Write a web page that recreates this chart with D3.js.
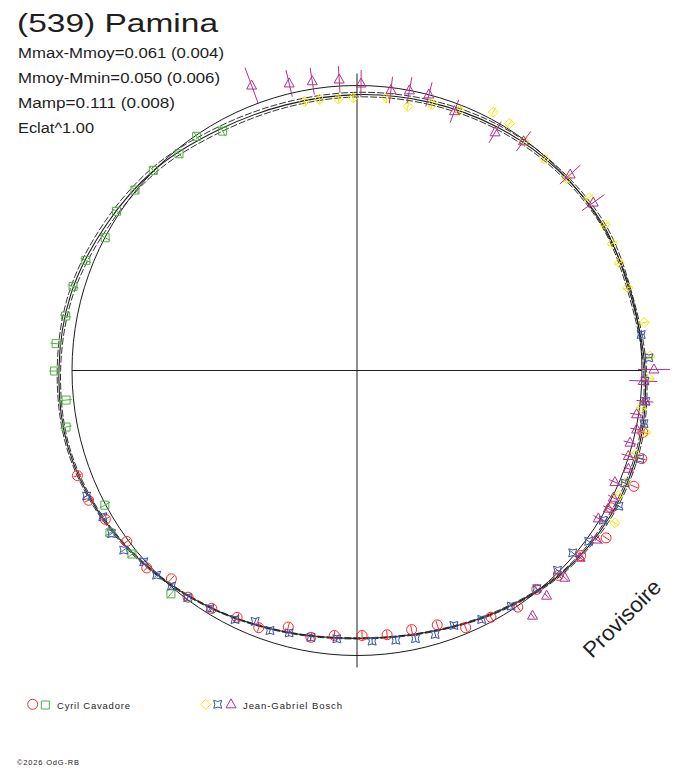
<!DOCTYPE html>
<html>
<head>
<meta charset="utf-8">
<script src="https://cdn.jsdelivr.net/npm/d3@7/dist/d3.min.js"></script>
<style>
body{margin:0;background:#fff;}
svg{display:block;}
text{font-family:"Liberation Sans",Arial,sans-serif;fill:#1e1e1e;}
</style>
</head>
<body>
<svg id="svg1"></svg>
<script>
var W = 688, H = 768;
var cx = 357, cy = 370.5, R0 = 285;

// title and stats
var title = "(539) Pamina";
var statLines = ["Mmax-Mmoy=0.061 (0.004)", "Mmoy-Mmin=0.050 (0.006)", "Mamp=0.111 (0.008)", "Eclat^1.00"];
var observers = ["Cyril Cavadore", "Jean-Gabriel Bosch"];

// fitted curve: phase (deg) and relative brightness, with its envelope
var fitPhase = [0,15,30,45,60,75,90,105,120,135,150,165,180,195,210,225,240,255,270,285,300,315,330,345];
var fitMid = [0.968,0.975,0.986,0.996,1.004,0.996,1.011,1.025,1.025,1.011,0.979,0.951,0.940,0.951,0.975,1.004,1.032,1.049,1.046,1.039,1.018,1.000,0.974,0.965];
var fitHi  = [0.976,0.983,0.994,1.003,1.011,1.002,1.016,1.031,1.031,1.015,0.982,0.953,0.942,0.953,0.977,1.007,1.036,1.054,1.052,1.047,1.028,1.010,0.984,0.974];
var fitLo  = [0.960,0.967,0.978,0.989,0.997,0.990,1.006,1.019,1.019,1.007,0.976,0.949,0.938,0.949,0.973,1.001,1.028,1.044,1.040,1.031,1.008,0.990,0.964,0.956];

// Cyril Cavadore, session 1 (circles)
var redPhase = [249.4,244.2,239.4,233.4,226.8,221.7,216.7,211.4,205.9,200.9,195.0,189.8,184.9,178.9,173.5,168.1,162.5,157.1,151.5,145.8,140.6,135.5,129.6,123.9,118.4,112.7,107.2,102.2];
var redFlux  = [1.048,1.046,1.026,1.006,1.012,0.979,0.992,0.978,0.963,0.966,0.932,0.950,0.933,0.930,0.933,0.929,0.936,0.980,0.985,1.004,0.994,1.008,1.019,1.053,1.013,1.053,1.046,1.026];

// Cyril Cavadore, session 2 (squares)
var greenPhase = [330.7,325.6,320.6,314.5,309.1,303.5,297.8,292.1,286.5,280.6,275.1,269.9,264.2,259.0,241.9,236.7,230.8,219.8];
var greenFlux  = [0.963,0.996,0.984,1.002,1.004,1.012,0.999,1.027,1.039,1.040,1.060,1.061,1.026,1.040,1.003,1.037,1.019,1.020];

// Jean-Gabriel Bosch, session 1 (diamonds)
var yelPhase = [349.0,352.1,356.1,359.2,6.2,10.9,15.8,21.5,27.8,31.7,36.1,41.5,47.6,53.3,59.5,63.6,67.7,73.0,80.5,87.2,91.6,97.5,102.1,106.8,112.7,115.6,120.6];
var yelFlux  = [0.962,0.960,0.955,0.957,0.962,0.944,0.970,0.981,1.025,1.018,0.996,0.992,0.997,1.015,1.010,1.000,0.995,0.993,1.022,1.029,1.025,1.006,1.036,1.020,1.020,1.016,1.051];

// Jean-Gabriel Bosch, session 2 (stars)
var bluePhase = [82.8,87.5,92.1,96.1,100.5,107.3,112.8,117.4,121.3,126.4,130.2,134.9,140.5,146.8,153.4,159.2,163.5,167.7,171.8,176.8,184.3,189.8,194.5,198.5,202.1,206.1,211.7,216.7,220.7,224.4,228.1,232.4,236.4,240.1,245.1];
var blueFlux  = [1.005,1.025,1.011,1.019,1.024,1.040,1.019,1.035,1.011,1.010,0.991,0.993,0.992,0.988,0.977,0.957,0.966,0.963,0.956,0.951,0.944,0.950,0.951,0.962,0.950,0.973,0.982,0.994,0.998,1.005,1.005,1.033,1.034,1.029,1.046];

// Jean-Gabriel Bosch, session 3 (triangles)
var magPhase = [339.7,346.7,351.2,356.5,0.8,6.9,10.6,14.6,20.6,30.1,36.0,47.4,54.6,89.8,92.1,96.1,98.9,101.9,104.8,107.5,109.9,113.4,116.4,118.8,121.5,125.2,130.0,134.9,139.9,144.4];
var magFlux  = [1.066,1.035,1.027,1.023,1.007,0.991,1.000,1.001,0.972,0.966,0.994,1.016,1.017,1.042,1.005,1.016,0.993,1.003,0.991,0.998,1.013,0.986,1.004,1.006,0.993,1.029,1.022,1.030,1.033,1.058];
var magErr   = [0.067,0.048,0.047,0.047,0.047,0.047,0.047,0.044,0.043,0.043,0.043,0.049,0.048,0.056,0.049,0.030,0.023,0.023,0.023,0.025,0.018,0.023,0.020,0.020,0.020,0.026,0.020,0.015,0.012,0.012];

// typical error of the other sessions
var seriesErr = {red:0.015, green:0.020, yellow:0.018, blue:0.012};

var colors = {red:"#ff2424", green:"#52b043", yellow:"#f2ea00", blue:"#3853a4", mag:"#b3308a", line:"#1c1c1c"};

var angle = d3.scaleLinear().domain([0,360]).range([0,2*Math.PI]);
var radius = d3.scaleLinear().domain([0,1]).range([0,R0]);

function pos(ph, f){
  var p = d3.pointRadial(angle(ph), radius(f));
  return [cx+p[0], cy+p[1]];
}

function zip(ph, fl, er){
  return ph.map(function(d,i){ return {ph:d, f:fl[i], e:(typeof er=='number') ? er : er[i]}; });
}

var shapes = {
  circle: "M5,0A5,5 0 1,1 -5,0A5,5 0 1,1 5,0Z",
  square: "M-4,-4H4V4H-4Z",
  diamond: "M0,-5L5,0L0,5L-5,0Z",
  star: "M-4,-4Q0,-1.6 4,-4Q1.6,0 4,4Q0,1.6 -4,4Q-1.6,0 -4,-4Z",
  triangle: "M0,-5.5L5,3.5L-5,3.5Z"
};

window.onload = function(){
  var svg1 = d3.select('#svg1').attr('width',W).attr('height',H);

  // axes
  svg1.append('line').attr('x1',cx-285).attr('x2',cx+285).attr('y1',cy).attr('y2',cy)
    .attr('stroke',colors.line).attr('stroke-width',1);
  svg1.append('line').attr('x1',cx).attr('x2',cx).attr('y1',cy-297).attr('y2',cy+297)
    .attr('stroke',colors.line).attr('stroke-width',1);

  // mean-brightness circle
  svg1.append('circle').attr('cx',cx).attr('cy',cy).attr('r',radius(1))
    .attr('fill','none').attr('stroke',colors.line).attr('stroke-width',1);

  // fit and envelope
  var radial = d3.lineRadial()
    .angle(function(d){ return angle(d[0]); })
    .radius(function(d){ return radius(d[1]); })
    .curve(d3.curveCatmullRomClosed);
  var gFit = svg1.append('g').attr('transform','translate('+cx+','+cy+')');
  [fitHi, fitLo].forEach(function(arr){
    gFit.append('path').attr('d', radial(fitPhase.map(function(p,i){ return [p, arr[i]]; })))
      .attr('fill','none').attr('stroke',colors.line).attr('stroke-width',0.9).attr('stroke-dasharray','7,2');
  });
  gFit.append('path').attr('d', radial(fitPhase.map(function(p,i){ return [p, fitMid[i]]; })))
    .attr('fill','none').attr('stroke',colors.line).attr('stroke-width',1.1);

  // data
  drawSeries(svg1, zip(greenPhase, greenFlux, seriesErr.green), shapes.square, colors.green);
  drawSeries(svg1, zip(redPhase, redFlux, seriesErr.red), shapes.circle, colors.red);
  drawSeries(svg1, zip(yelPhase, yelFlux, seriesErr.yellow), shapes.diamond, colors.yellow);
  drawSeries(svg1, zip(bluePhase, blueFlux, seriesErr.blue), shapes.star, colors.blue);
  drawSeries(svg1, zip(magPhase, magFlux, magErr), shapes.triangle, colors.mag);

  // texts
  svg1.append('text').attr('x',17).attr('y',32).attr('font-size',26)
    .attr('textLength',201).attr('lengthAdjust','spacingAndGlyphs').text(title);
  svg1.selectAll('text.stat').data(statLines).enter().append('text').attr('class','stat')
    .attr('x',18).attr('y',function(d,i){ return 58+25*i; }).attr('font-size',15.5)
    .attr('textLength',function(d,i){ return [206,202,157,76][i]; })
    .attr('lengthAdjust','spacingAndGlyphs').text(function(d){ return d; });

  svg1.append('text').attr('transform','translate(592,659) rotate(-45)')
    .attr('font-size',22).attr('textLength',100).attr('lengthAdjust','spacingAndGlyphs').text('Provisoire');

  // legend
  var lg = svg1.append('g');
  legendMark(lg, 32.7, 704.3, shapes.circle, colors.red);
  legendMark(lg, 45.3, 705, shapes.square, colors.green);
  lg.append('text').attr('x',57).attr('y',708.5).attr('font-size',9.5)
    .attr('textLength',73).attr('lengthAdjust','spacing').text(observers[0]);
  legendMark(lg, 205.7, 704.3, shapes.diamond, colors.yellow);
  legendMark(lg, 217.7, 704.3, shapes.star, colors.blue);
  legendMark(lg, 231, 704.3, shapes.triangle, colors.mag);
  lg.append('text').attr('x',243).attr('y',708.5).attr('font-size',9.5)
    .attr('textLength',99).attr('lengthAdjust','spacing').text(observers[1]);

  svg1.append('text').attr('x',17).attr('y',765).attr('font-size',7.5)
    .attr('textLength',62).attr('lengthAdjust','spacing').text('\u00a92026 OdG-RB');
};

function drawSeries(svg1, data, shape, col){
  var g = svg1.append('g');
  g.selectAll('line').data(data).enter().append('line')
    .attr('x1',function(d){ return pos(d.ph, d.f-d.e)[0]; })
    .attr('y1',function(d){ return pos(d.ph, d.f-d.e)[1]; })
    .attr('x2',function(d){ return pos(d.ph, d.f+d.e)[0]; })
    .attr('y2',function(d){ return pos(d.ph, d.f+d.e)[1]; })
    .attr('stroke',col).attr('stroke-width',1);
  g.selectAll('path').data(data).enter().append('path')
    .attr('d',shape)
    .attr('transform',function(d){ var p = pos(d.ph, d.f); return 'translate('+p[0]+','+p[1]+')'; })
    .attr('fill','none').attr('stroke',col).attr('stroke-width',1);
}

function legendMark(g, x, y, shape, col){
  g.append('path').attr('d',shape).attr('transform','translate('+x+','+y+')')
    .attr('fill','none').attr('stroke',col).attr('stroke-width',1);
}
</script>
</body>
</html>
